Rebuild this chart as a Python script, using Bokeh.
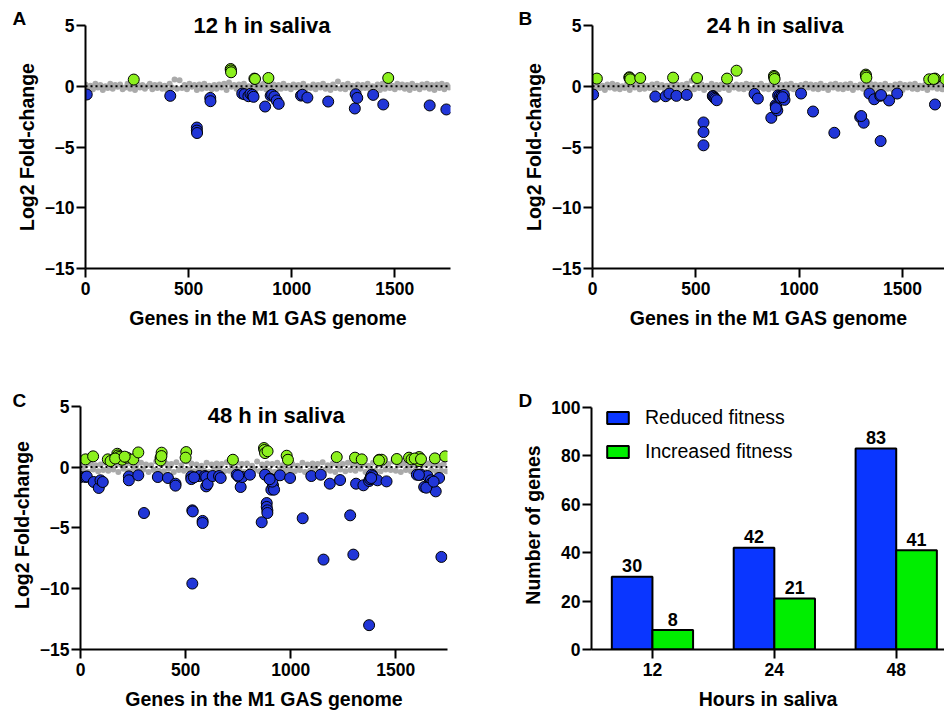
from bokeh.plotting import figure
from bokeh.layouts import row, column
from bokeh.models import Span, Label, Legend, LegendItem, FixedTicker, Range1d, ColumnDataSource, Title
from bokeh.embed import file_html
from bokeh.resources import INLINE
from bokeh.core.properties import value

FONT = "Liberation Sans"
BLUE_PT = "#2136d8"
GREEN_PT = "#8cf01e"
GRAY_PT = "#aaaaaa"
BLUE_BAR = "#0a36ff"
GREEN_BAR = "#00ee00"

# ---------------- data ----------------
x_ticks = [0, 500, 1000, 1500]
y_ticks = [-15, -10, -5, 0, 5]
GRAY_STEP = 12  # gene spacing of the plotted background genes

# Panel A: 12 h
a_red_x = [6, 411, 540, 540, 541, 605, 606, 760, 771, 790, 800, 810, 815, 871, 898, 905, 916, 927, 937,
           1045, 1052, 1076, 1177, 1306, 1310, 1318, 1395, 1444, 1669, 1750]
a_red_y = [-0.68, -0.79, -3.4, -3.65, -3.85, -0.96, -1.23, -0.6, -0.66, -0.82, -0.62, -0.71, -0.87, -1.67,
           -0.77, -0.7, -0.85, -1.17, -1.45, -0.77, -0.7, -0.93, -1.26, -1.83, -0.66, -0.96, -0.71, -1.5,
           -1.58, -1.91]
a_inc_x = [234, 704, 705, 706, 819, 822, 887, 1468]
a_inc_y = [0.55, 1.42, 1.3, 1.15, 0.63, 0.6, 0.68, 0.68]
a_gray = [
    0.15, -0.2, 0.05, -0.25, 0.2, -0.1, 0.1, -0.3, 0.0, -0.15, 0.2, -0.2, 0.1, -0.05, 0.15, -0.25,
    -0.1, 0.2, -0.2, 0.05, -0.3, 0.15, -0.1, 0.1, -0.2, 0.0, 0.2, -0.25, 0.1, -0.15, 0.15, -0.2,
    0.05, -0.3, 0.2, -0.1, 0.55, -0.2, 0.5, -0.15, 0.1, -0.25, 0.2, -0.05, 0.1, -0.3, 0.15, -0.2,
    0.2, -0.15, 0.05, -0.25, 0.1, -0.2, 0.15, -0.1, 0.2, -0.3, 0.3, -0.05, 0.1, -0.2, 0.15, -0.25,
    0.2, -0.1, 0.0, -0.3, 0.15, -0.2, 0.1, -0.15, 0.2, -0.25, 0.05, -0.1, 0.15, -0.3, 0.1, -0.2,
    0.2, -0.15, 0.05, -0.25, 0.15, -0.1, 0.1, -0.3, 0.2, -0.2, 0.0, -0.15, 0.15, -0.25, 0.1, -0.1,
    0.2, -0.2, 0.05, -0.3, 0.15, -0.15, 0.4, -0.2, 0.1, -0.25, 0.2, -0.1, 0.05, -0.3, 0.15, -0.2,
    0.1, -0.15, 0.2, -0.25, 0.0, -0.1, 0.15, -0.3, 0.2, -0.2, 0.1, -0.15, 0.05, -0.25, 0.2, -0.1,
    0.15, -0.2, 0.1, -0.3, 0.2, -0.15, 0.05, -0.25, 0.15, -0.1, 0.2, -0.2, 0.1, -0.3, 0.15, -0.15,
    0.2, -0.25, 0.1, -0.1]

# Panel B: 24 h
b_red_x = [3, 304, 354, 372, 406, 456, 537, 537, 537, 582, 585, 590, 595, 601, 784, 800, 865, 886, 889,
           894, 898, 905, 910, 916, 926, 929, 1009, 1067, 1170, 1295, 1312, 1340, 1363, 1392, 1394, 1435,
           1474, 887, 920, 1657, 1300, 1396]
b_red_y = [-0.68, -0.85, -0.82, -0.6, -0.79, -0.71, -2.98, -3.77, -4.86, -0.8, -0.85, -0.95, -1.04, -1.15,
           -0.63, -1.01, -2.6, -1.55, -1.67, -1.99, -0.75, -0.82, -0.95, -0.77, -0.71, -1.12, -0.6, -2.08,
           -3.83, -2.54, -3.0, -0.6, -1.07, -0.79, -4.51, -1.17, -0.6, -1.8, -0.9, -1.5, -2.45, -0.72]
b_inc_x = [21, 178, 180, 183, 231, 390, 506, 651, 697, 878, 879, 881, 1322, 1323, 1325, 1629, 1657, 1708,
           1740, 1760, 1650]
b_inc_y = [0.63, 0.74, 0.68, 0.57, 0.68, 0.71, 0.68, 0.63, 1.28, 0.85, 0.75, 0.6, 0.96, 0.85, 0.71, 0.57,
           0.63, 0.57, 0.62, 0.7, 0.6]
b_gray = [
    0.1, -0.25, 0.2, -0.15, 0.05, -0.3, 0.15, -0.1, 0.2, -0.2, 0.1, -0.25, 0.0, -0.15, 0.2, -0.3,
    0.15, -0.1, 0.1, -0.25, 0.2, -0.2, 0.05, -0.15, 0.15, -0.3, 0.2, -0.1, 0.1, -0.2, 0.05, -0.25,
    0.2, -0.15, 0.15, -0.3, 0.1, -0.1, 0.2, -0.2, 0.45, -0.25, 0.1, -0.15, 0.15, -0.3, 0.05, -0.1,
    0.2, -0.2, 0.1, -0.25, 0.15, -0.15, 0.2, -0.3, 0.05, -0.1, 0.15, -0.2, 0.1, -0.25, 0.2, -0.15,
    0.15, -0.3, 0.1, -0.1, 0.2, -0.2, 0.05, -0.25, 0.15, -0.15, 0.2, -0.3, 0.1, -0.1, 0.15, -0.2,
    0.2, -0.25, 0.05, -0.15, 0.1, -0.3, 0.2, -0.1, 0.15, -0.2, 0.1, -0.25, 0.2, -0.15, 0.05, -0.3,
    0.15, -0.1, 0.2, -0.2, 0.1, -0.25, 0.15, -0.15, 0.2, -0.3, 0.05, -0.1, 0.15, -0.2, 0.1, -0.25,
    0.2, -0.15, 0.15, -0.3, 0.1, -0.1, 0.2, -0.2, 0.05, -0.25, 0.15, -0.15, 0.2, -0.3, 0.1, -0.1,
    0.15, -0.2, 0.2, -0.25, 0.05, -0.15, 0.1, -0.3, 0.2, -0.1, 0.15, -0.2, 0.1, -0.25, 0.2, -0.15,
    0.15, -0.3, 0.1, -0.1]

# Panel C: 48 h
c_red_x = [0, 24, 30, 63, 87, 95, 106, 230, 230, 275, 302, 368, 416, 452, 452, 527, 527, 532, 534, 532,
           565, 581, 581, 592, 598, 598, 605, 629, 659, 667, 743, 754, 762, 770, 750, 806, 862, 878, 886,
           886, 889, 889, 902, 908, 916, 921, 912, 949, 997, 1057, 1098, 1143, 1156, 1186, 1235, 1283,
           1298, 1311, 1346, 1373, 1373, 1378, 1381, 1386, 1390, 1413, 1456, 1600, 1619, 1635, 1651, 1659,
           1667, 1672, 1690, 1706, 1717, 1645, 1610, 1680, 1383, 900, 540]
c_red_y = [-0.82, -0.82, -0.78, -1.23, -1.72, -1.09, -1.23, -0.77, -1.09, -0.68, -3.78, -0.82, -0.9, -1.37,
           -1.53, -0.77, -0.99, -3.56, -3.65, -9.58, -0.74, -4.43, -4.6, -0.74, -1.59, -0.82, -1.4, -0.74,
           -0.74, -0.9, -0.63, -0.82, -1.64, -0.82, -0.7, -0.63, -4.54, -0.63, -2.96, -3.28, -3.56, -3.78,
           -0.96, -1.86, -1.5, -1.86, -1.2, -0.68, -0.9, -4.21, -0.74, -0.63, -7.61, -1.37, -1.07, -3.97,
           -7.2, -1.37, -1.5, -13.0, -1.15, -1.0, -0.82, -0.63, -0.75, -1.09, -1.18, -0.63, -0.63, -1.64,
           -0.74, -1.59, -1.09, -1.3, -2.0, -0.9, -7.39, -1.7, -0.65, -1.2, -0.9, -1.0, -0.85]
c_inc_x = [24, 60, 130, 143, 175, 178, 183, 198, 222, 251, 275, 381, 386, 381, 503, 500, 725, 873, 875, 878,
           981, 987, 1219, 1306, 1338, 1421, 1433, 1505, 1563, 1575, 1611, 1611, 1686, 1735, 165, 210,
           1420, 1590, 1620, 890, 385]
c_inc_y = [0.63, 0.88, 0.63, 0.49, 1.09, 0.95, 0.82, 0.6, 0.77, 0.63, 1.2, 0.77, 1.18, 0.55, 1.23, 0.77,
           0.6, 1.56, 1.4, 1.15, 0.93, 0.6, 0.82, 0.77, 0.63, 0.6, 0.6, 0.66, 0.77, 0.63, 0.82, 0.49, 0.71,
           0.88, 0.7, 0.85, 0.55, 0.7, 0.65, 1.3, 0.9]
c_gray = [
    0.25, -0.3, 0.1, -0.4, 0.3, -0.2, 0.15, -0.35, 0.2, -0.25, 0.35, -0.3, 0.1, -0.2, 0.3, -0.4,
    0.2, -0.15, 0.25, -0.35, 0.3, -0.25, 0.1, -0.3, 0.35, -0.2, 0.2, -0.4, 0.15, -0.25, 0.45, -0.3,
    0.2, -0.35, 0.3, -0.15, 0.25, -0.4, 0.4, -0.25, 0.15, -0.3, 0.45, -0.2, 0.3, -0.35, 0.2, -0.25,
    0.1, -0.3, 0.35, -0.4, 0.2, -0.2, 0.3, -0.15, 0.25, -0.35, 0.4, -0.3, 0.15, -0.25, 0.35, -0.2,
    0.25, -0.4, 0.3, -0.3, 0.1, -0.25, 0.45, -0.35, 0.2, -0.15, 0.3, -0.3, 0.25, -0.4, 0.35, -0.2,
    0.15, -0.3, 0.3, -0.2, 0.25, -0.35, 0.1, -0.25, 0.35, -0.4, 0.2, -0.3, 0.3, -0.15, 0.25, -0.35,
    0.4, -0.25, 0.15, -0.3, 0.3, -0.4, 0.1, -0.2, 0.25, -0.35, 0.35, -0.25, 0.2, -0.3, 0.3, -0.15,
    0.25, -0.4, 0.1, -0.25, 0.35, -0.3, 0.2, -0.35, 0.3, -0.2, 0.25, -0.25, 0.45, -0.3, 0.15, -0.4,
    0.3, -0.25, 0.1, -0.35, 0.25, -0.2, 0.35, -0.3, 0.2, -0.4, 0.3, -0.25, 0.25, -0.35, 0.15, -0.3,
    0.25, -0.35]

# Panel D: counts
hours = ["12", "24", "48"]
reduced = [30, 42, 83]
increased = [8, 21, 41]
count_ticks = [0, 20, 40, 60, 80, 100]


# ---------------- helpers ----------------
def style(p):
    p.outline_line_color = None
    p.xgrid.grid_line_color = None
    p.ygrid.grid_line_color = None
    p.background_fill_color = "white"
    p.border_fill_color = "white"
    for ax in list(p.xaxis) + list(p.yaxis):
        ax.axis_line_width = 2
        ax.axis_line_color = "black"
        ax.major_tick_line_width = 2
        ax.major_tick_line_color = "black"
        ax.major_tick_out = 9
        ax.major_tick_in = 0
        ax.minor_tick_line_color = None
        ax.major_label_text_font = FONT
        ax.major_label_text_font_style = "bold"
        ax.major_label_text_font_size = "17.5px"
        ax.major_label_text_color = "black"
        ax.axis_label_text_font = FONT
        ax.axis_label_text_font_style = "bold"
        ax.axis_label_text_font_size = "19.5px"
        ax.axis_label_text_color = "black"
    for ax in p.xaxis:
        ax.major_label_standoff = 4
        ax.axis_label_standoff = 9
    for ax in p.yaxis:
        ax.major_label_standoff = 2
        ax.axis_label_standoff = 4


def add_title(p, text, offset, standoff, size):
    p.add_layout(Title(text=text, align="left", offset=offset, standoff=standoff,
                       vertical_align="bottom", text_font=FONT, text_font_style="bold",
                       text_font_size=size, text_color="black"), "above")


def scatter_panel(w, h, bl, br, bt, bb, xend, ytop, gray, rx, ry, ix, iy):
    p = figure(width=w, height=h, x_range=Range1d(0, xend), y_range=Range1d(-15, ytop),
               output_backend="svg", toolbar_location=None, title=None,
               min_border_left=bl, min_border_right=br, min_border_top=bt, min_border_bottom=bb)
    style(p)
    p.xaxis.ticker = FixedTicker(ticks=x_ticks)
    p.yaxis.ticker = FixedTicker(ticks=y_ticks)
    p.yaxis.bounds = (y_ticks[0], y_ticks[-1])
    p.xaxis.axis_label = "Genes in the M1 GAS genome"
    p.yaxis.axis_label = "Log2 Fold-change"
    gx = [i * GRAY_STEP for i in range(len(gray))]
    p.scatter(gx, gray, size=6, fill_color=GRAY_PT, line_color=None)
    p.add_layout(Span(location=0, dimension="width", line_color="black",
                      line_width=2, line_dash="2 3"))
    p.scatter(rx, ry, size=11, fill_color=BLUE_PT, line_color="black", line_width=1)
    p.scatter(ix, iy, size=11, fill_color=GREEN_PT, line_color="black", line_width=1)
    return p


H1, H2 = 366, 348

pa = scatter_panel(470, H1, 85, 20, 25, H1 - 25 - 243, 1770, 5, a_gray, a_red_x, a_red_y, a_inc_x, a_inc_y)
add_title(pa, "12 h in saliva", 108, -24, "22px")
add_title(pa, "A", -73, -13, "19px")

pb = scatter_panel(474, H1, 122, 0, 25, H1 - 25 - 243, 1703, 5, b_gray, b_red_x, b_red_y, b_inc_x, b_inc_y)
add_title(pb, "24 h in saliva", 114, -24, "22px")
add_title(pb, "B", -74, -13, "19px")

pc = scatter_panel(470, H2, 80, 23, 34, 65, 1746, 5.47, c_gray, c_red_x, c_red_y, c_inc_x, c_inc_y)
pc.add_layout(Label(x=931, y=4.22, text="48 h in saliva", text_align="center", text_baseline="middle",
                    text_font=FONT, text_font_style="bold", text_font_size="22px", text_color="black"))
add_title(pc, "C", -68, -20, "19px")

# ---------------- panel D ----------------
idx = list(range(len(hours)))
pd_ = figure(width=474, height=H2, x_range=Range1d(-0.5, 2.396), y_range=Range1d(0, 102.77),
             output_backend="svg", toolbar_location=None, title=None,
             min_border_left=121, min_border_right=0, min_border_top=34, min_border_bottom=65)
style(pd_)
pd_.xaxis.ticker = FixedTicker(ticks=idx)
pd_.xaxis.major_label_overrides = {i: h for i, h in zip(idx, hours)}
pd_.yaxis.ticker = FixedTicker(ticks=count_ticks)
pd_.yaxis.bounds = (count_ticks[0], count_ticks[-1])
pd_.xaxis.axis_label = "Hours in saliva"
pd_.yaxis.axis_label = "Number of genes"

src = ColumnDataSource(dict(
    xr=[i - 1 / 6 for i in idx], xi=[i + 1 / 6 for i in idx],
    red=reduced, inc=increased,
    red_lab=[str(v) for v in reduced], inc_lab=[str(v) for v in increased]))
rb = pd_.vbar(x="xr", top="red", bottom=0, width=1 / 3, source=src,
              fill_color=BLUE_BAR, line_color="black", line_width=2)
gb = pd_.vbar(x="xi", top="inc", bottom=0, width=1 / 3, source=src,
              fill_color=GREEN_BAR, line_color="black", line_width=2)
for xcol, ycol, tcol in (("xr", "red", "red_lab"), ("xi", "inc", "inc_lab")):
    pd_.text(x=xcol, y=ycol, text=tcol, source=src, text_align="center", text_baseline="middle",
             y_offset=-11, text_font=value(FONT), text_font_style="bold", text_font_size="18px",
             text_color="black")

legend = Legend(items=[LegendItem(label="Reduced fitness", renderers=[rb]),
                       LegendItem(label="Increased fitness", renderers=[gb])],
                location=(13, 186), padding=0, margin=0, spacing=11,
                glyph_width=27, glyph_height=15, label_standoff=14, label_height=22,
                label_text_font=FONT, label_text_font_size="19.5px", label_text_color="black",
                border_line_color=None, background_fill_alpha=0)
pd_.add_layout(legend)
add_title(pd_, "D", -73, -20, "19px")

layout = column(row(pa, pb), row(pc, pd_))
open("out.html", "w").write(file_html(layout, INLINE, "Saliva fitness"))
